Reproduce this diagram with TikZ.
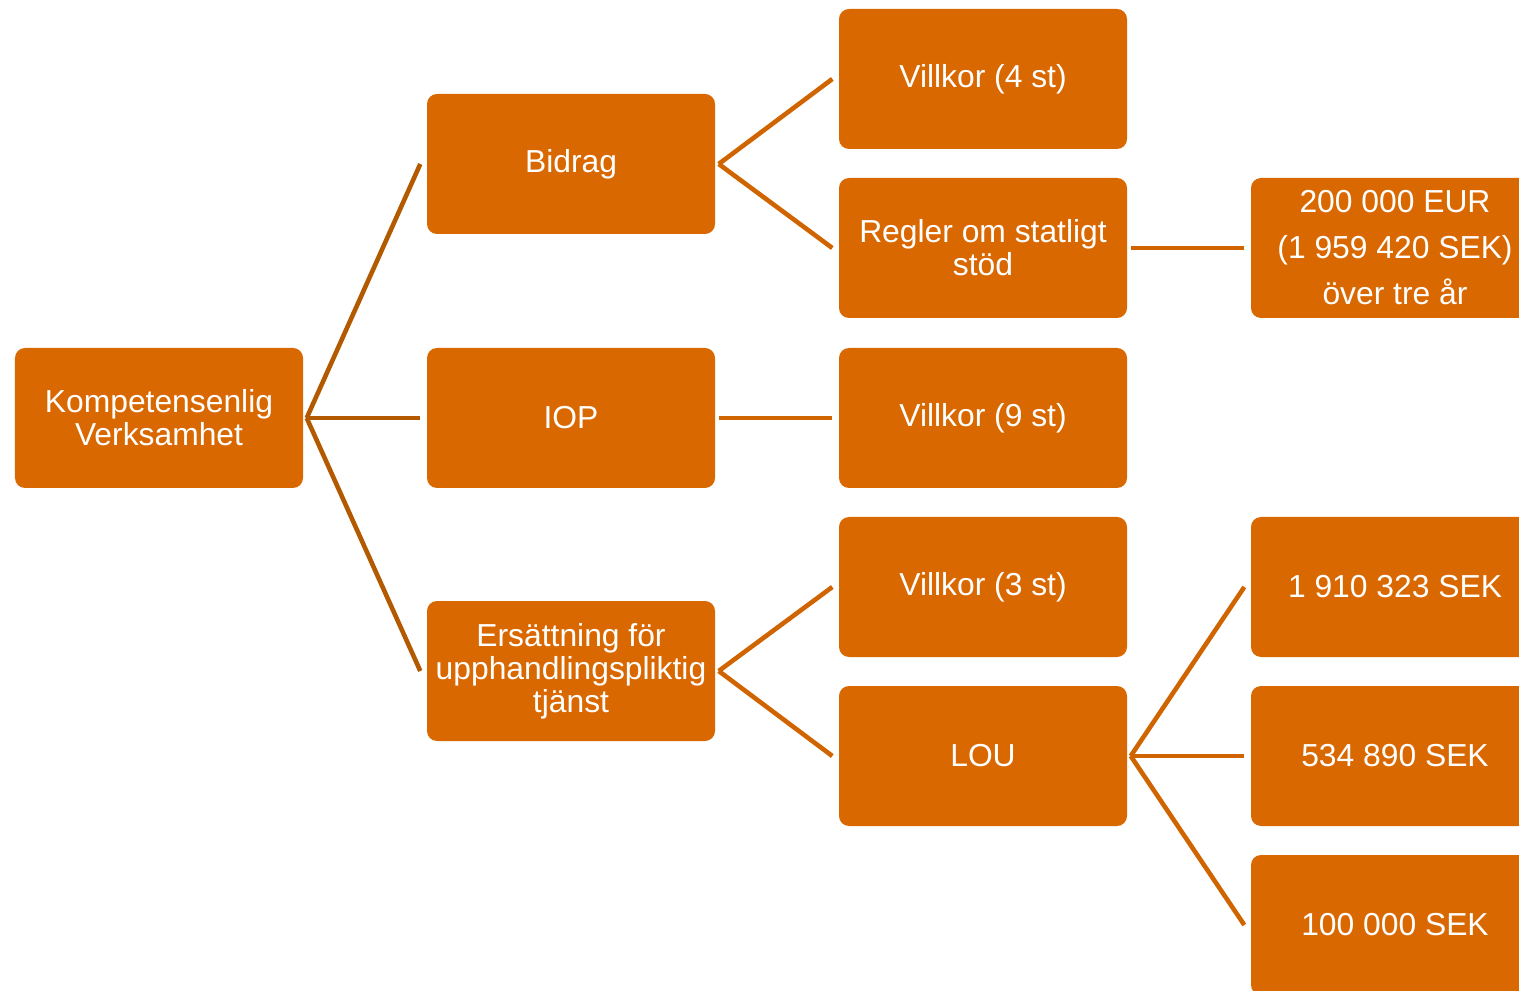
\documentclass[tikz,border=0pt]{standalone}
\usepackage{fontspec}
\setmainfont{Liberation Sans}
\usepackage{tikz}
\definecolor{boxorange}{HTML}{DA6800}
\definecolor{linkbrown}{HTML}{B35900}
\definecolor{linkorange}{HTML}{D06400}
\tikzstyle{bx}=[shape=rectangle,
                fill=boxorange,
                draw=none,
                rounded corners=0.1cm,
                minimum height=1.40cm,
                minimum width=2.88cm,
                inner xsep=1pt,
                text=white,
                align=center,
                font=\fontsize{9.05}{9.45}\selectfont]
\tikzstyle{ln}=[draw=linkorange,line width=1.3pt]

\begin{document}
\begin{tikzpicture}
\useasboundingbox (0,0) rectangle (15.19,-9.91);

% root
\node[bx] (kv) at (1.59,-4.18) {Kompetensenlig\\Verksamhet};

% first level
\node[bx] (bid) at (5.71,-1.64) {Bidrag};
\node[bx] (iop) at (5.71,-4.18) {IOP};
\node[bx] (ers) at (5.71,-6.71) {Ersättning för\\upphandlingspliktig\\tjänst};

% second level
\node[bx] (v4)  at (9.83,-0.79) {Villkor (4 st)};
\node[bx] (rss) at (9.83,-2.48) {Regler om statligt\\stöd};
\node[bx] (v9)  at (9.83,-4.18) {Villkor (9 st)};
\node[bx] (v3)  at (9.83,-5.87) {Villkor (3 st)};
\node[bx] (lou) at (9.83,-7.56) {LOU};

% third level
\node[bx,font=\fontsize{9.05}{13.1}\selectfont] (eur) at (13.95,-2.48)
     {200 000 EUR\\(1 959 420 SEK)\\över tre år};
\node[bx] (s1) at (13.95,-5.87) {1 910 323 SEK};
\node[bx] (s2) at (13.95,-7.56) {534 890 SEK};
\node[bx] (s3) at (13.95,-9.25) {100 000 SEK};

% links from root
\path[ln,draw=linkbrown]
      ([xshift=0.03cm]kv.east) edge ([xshift=-0.06cm]bid.west)
      ([xshift=0.03cm]kv.east) edge ([xshift=-0.06cm]iop.west)
      ([xshift=0.03cm]kv.east) edge ([xshift=-0.06cm]ers.west);

% links between the other levels
\path[ln] ([xshift=0.03cm]bid.east) edge ([xshift=-0.06cm]v4.west)
          ([xshift=0.03cm]bid.east) edge ([xshift=-0.06cm]rss.west)
          ([xshift=0.03cm]iop.east) edge ([xshift=-0.06cm]v9.west)
          ([xshift=0.03cm]ers.east) edge ([xshift=-0.06cm]v3.west)
          ([xshift=0.03cm]ers.east) edge ([xshift=-0.06cm]lou.west)
          ([xshift=0.03cm]rss.east) edge ([xshift=-0.06cm]eur.west)
          ([xshift=0.03cm]lou.east) edge ([xshift=-0.06cm]s1.west)
          ([xshift=0.03cm]lou.east) edge ([xshift=-0.06cm]s2.west)
          ([xshift=0.03cm]lou.east) edge ([xshift=-0.06cm]s3.west);

\end{tikzpicture}
\end{document}
